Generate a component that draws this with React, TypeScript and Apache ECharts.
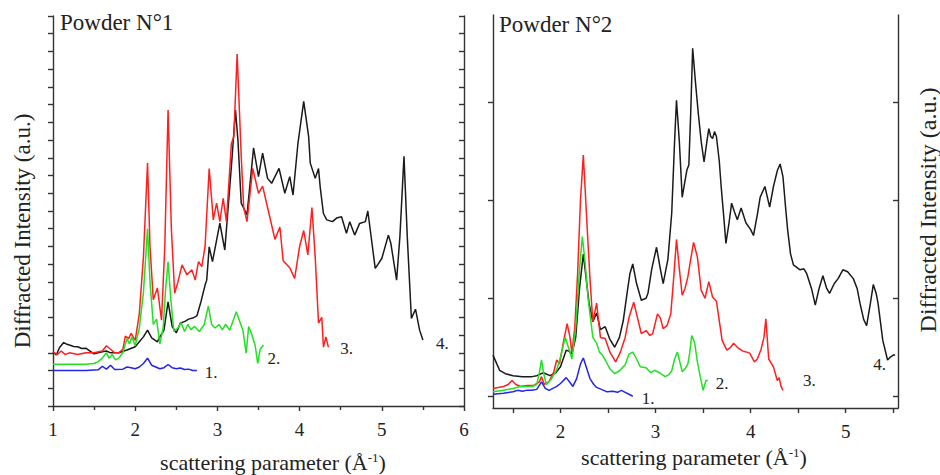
import React, { useEffect, useRef } from "react";
import * as echarts from "echarts";

const SERIF = '"Liberation Serif", "Times New Roman", serif';
const INK = "#222";
const AXIS = "#333";

// ---------- Powder N°1 (left panel) ----------
const p1XRange = [1, 6];
const p1YRange = [0, 11];

const p1Blue = [
  [1.0, 1.0], [1.2, 1.0], [1.4, 1.0], [1.55, 1.02], [1.6, 1.12], [1.65, 1.04], [1.7, 1.15],
  [1.75, 1.03], [1.85, 1.04], [1.9, 1.1], [1.95, 1.08], [2.0, 1.05], [2.05, 1.1], [2.1, 1.2],
  [2.15, 1.35], [2.2, 1.15], [2.25, 1.1], [2.3, 1.05], [2.35, 1.08], [2.4, 1.17], [2.45, 1.08],
  [2.5, 1.05], [2.55, 1.07], [2.6, 1.03], [2.65, 1.04], [2.7, 1.0], [2.75, 1.0],
];

const p1Green = [
  [1.0, 1.18], [1.2, 1.18], [1.4, 1.18], [1.5, 1.2], [1.55, 1.25], [1.6, 1.35], [1.65, 1.5],
  [1.68, 1.35], [1.72, 1.45], [1.76, 1.3], [1.8, 1.35], [1.85, 1.5], [1.9, 1.9], [1.93, 1.75],
  [1.96, 1.95], [2.0, 1.7], [2.05, 2.2], [2.1, 3.2], [2.15, 5.0], [2.18, 3.5], [2.22, 2.3],
  [2.26, 2.45], [2.3, 1.75], [2.34, 2.2], [2.37, 3.3], [2.4, 4.07], [2.43, 3.1], [2.47, 2.1],
  [2.52, 2.2], [2.56, 2.35], [2.6, 2.1], [2.64, 2.3], [2.68, 2.15], [2.72, 2.25], [2.78, 2.1],
  [2.84, 2.3], [2.89, 2.82], [2.93, 2.3], [2.97, 2.2], [3.02, 2.3], [3.06, 2.15], [3.1, 2.3],
  [3.15, 2.14], [3.19, 2.4], [3.23, 2.66], [3.27, 2.4], [3.31, 2.14], [3.35, 1.49], [3.38, 2.24],
  [3.42, 2.0], [3.46, 1.7], [3.49, 1.2], [3.52, 1.6], [3.56, 1.72],
];

const p1Red = [
  [1.0, 1.53], [1.05, 1.45], [1.1, 1.55], [1.15, 1.45], [1.2, 1.5], [1.3, 1.45], [1.4, 1.5],
  [1.5, 1.5], [1.6, 1.55], [1.65, 1.7], [1.7, 1.6], [1.75, 1.5], [1.8, 1.5], [1.85, 1.6],
  [1.88, 1.97], [1.92, 1.9], [1.95, 2.05], [2.0, 1.85], [2.05, 2.6], [2.1, 4.2], [2.15, 6.85],
  [2.18, 4.5], [2.22, 3.0], [2.27, 3.33], [2.32, 2.42], [2.36, 4.5], [2.4, 8.35], [2.44, 5.0],
  [2.48, 3.18], [2.52, 3.5], [2.57, 3.98], [2.63, 3.7], [2.69, 3.84], [2.73, 3.55], [2.77, 4.07],
  [2.81, 3.93], [2.85, 4.5], [2.9, 6.7], [2.95, 5.25], [2.99, 5.72], [3.03, 5.2], [3.07, 5.86],
  [3.11, 5.2], [3.17, 7.4], [3.2, 7.6], [3.24, 9.93], [3.29, 7.04], [3.32, 5.6], [3.36, 5.2],
  [3.43, 6.7], [3.5, 6.0], [3.55, 6.2], [3.62, 5.5], [3.7, 4.7], [3.76, 5.05], [3.8, 4.1],
  [3.88, 3.9], [3.94, 3.6], [4.0, 4.5], [4.05, 4.95], [4.1, 4.26], [4.15, 5.6], [4.19, 4.2],
  [4.23, 2.34], [4.27, 2.5], [4.29, 1.66], [4.32, 1.95], [4.35, 1.66],
];

const p1Black = [
  [1.0, 1.53], [1.04, 1.44], [1.08, 1.65], [1.13, 1.79], [1.16, 1.75], [1.2, 1.72], [1.25, 1.68],
  [1.3, 1.67], [1.35, 1.62], [1.4, 1.63], [1.45, 1.55], [1.5, 1.47], [1.55, 1.5], [1.6, 1.53],
  [1.65, 1.55], [1.7, 1.5], [1.8, 1.5], [1.9, 1.58], [2.0, 1.67], [2.05, 1.81], [2.1, 1.95],
  [2.15, 2.14], [2.2, 1.92], [2.27, 1.81], [2.3, 1.95], [2.35, 2.14], [2.4, 2.94], [2.45, 2.24],
  [2.5, 2.06], [2.55, 2.34], [2.6, 2.38], [2.65, 2.45], [2.7, 2.48], [2.75, 2.54], [2.8, 2.94],
  [2.85, 3.41], [2.87, 3.55], [2.9, 4.49], [2.94, 4.07], [3.03, 5.16], [3.09, 4.4], [3.17, 6.75],
  [3.22, 8.35], [3.25, 7.5], [3.29, 5.72], [3.36, 5.39], [3.44, 7.28], [3.5, 6.47], [3.55, 7.13],
  [3.61, 6.42], [3.66, 6.28], [3.7, 6.47], [3.75, 6.7], [3.82, 6.0], [3.88, 6.47], [3.92, 5.95],
  [3.98, 7.41], [4.05, 8.59], [4.11, 7.6], [4.13, 6.85], [4.19, 6.42], [4.23, 6.7], [4.25, 6.19],
  [4.29, 5.43], [4.33, 5.25], [4.4, 5.2], [4.45, 5.3], [4.51, 5.34], [4.57, 4.87], [4.61, 5.2],
  [4.67, 4.82], [4.73, 5.15], [4.8, 5.2], [4.83, 5.5], [4.92, 3.88], [5.0, 4.16], [5.08, 4.82],
  [5.11, 4.59], [5.18, 3.55], [5.22, 4.77], [5.27, 7.04], [5.31, 4.77], [5.36, 2.47], [5.41, 2.73],
  [5.46, 2.14], [5.5, 1.86],
];

// ---------- Powder N°2 (right panel) ----------
const p2XRange = [1.29, 5.55];
const p2YRange = [-0.12, 3.89];
const p2XTickValues = [1.5, 2, 2.5, 3, 3.5, 4, 4.5, 5, 5.5];
const p2XLabelValues = [2, 3, 4, 5];
const p2YTickValues = [0, 1, 2, 3];

const p2Blue = [
  [1.29, 0.02], [1.4, 0.03], [1.5, 0.045], [1.55, 0.06], [1.6, 0.05], [1.64, 0.06], [1.7, 0.06],
  [1.75, 0.07], [1.8, 0.146], [1.84, 0.08], [1.88, 0.06], [1.92, 0.08], [1.96, 0.1], [2.0, 0.13],
  [2.06, 0.19], [2.1, 0.14], [2.13, 0.1], [2.17, 0.18], [2.21, 0.33], [2.24, 0.39], [2.27, 0.3],
  [2.31, 0.18], [2.35, 0.12], [2.38, 0.09], [2.43, 0.07], [2.49, 0.045], [2.55, 0.05], [2.6, 0.04],
  [2.64, 0.06], [2.68, 0.04], [2.72, 0.02], [2.76, 0.0],
];

const p2Green = [
  [1.29, 0.045], [1.4, 0.06], [1.5, 0.08], [1.58, 0.1], [1.64, 0.1], [1.7, 0.1], [1.75, 0.12],
  [1.78, 0.25], [1.8, 0.37], [1.82, 0.25], [1.85, 0.12], [1.9, 0.17], [1.96, 0.27], [2.0, 0.4],
  [2.05, 0.6], [2.09, 0.48], [2.12, 0.38], [2.16, 0.7], [2.2, 1.3], [2.23, 1.63], [2.26, 1.35],
  [2.29, 1.0], [2.31, 0.84], [2.34, 0.6], [2.38, 0.54], [2.41, 0.45], [2.44, 0.42], [2.47, 0.37],
  [2.52, 0.28], [2.57, 0.23], [2.62, 0.26], [2.68, 0.32], [2.72, 0.43], [2.76, 0.45], [2.8, 0.38],
  [2.84, 0.3], [2.9, 0.29], [2.95, 0.24], [2.99, 0.265], [3.04, 0.24], [3.1, 0.2], [3.14, 0.22],
  [3.17, 0.26], [3.2, 0.38], [3.23, 0.45], [3.26, 0.33], [3.28, 0.25], [3.31, 0.28], [3.34, 0.33],
  [3.36, 0.45], [3.38, 0.62], [3.41, 0.55], [3.44, 0.35], [3.47, 0.2], [3.5, 0.06], [3.53, 0.16],
  [3.55, 0.16],
];

const p2Red = [
  [1.29, 0.08], [1.4, 0.1], [1.45, 0.12], [1.49, 0.16], [1.53, 0.12], [1.58, 0.1], [1.65, 0.11],
  [1.72, 0.11], [1.78, 0.15], [1.8, 0.2], [1.83, 0.12], [1.88, 0.15], [1.93, 0.25], [1.96, 0.37],
  [1.99, 0.33], [2.03, 0.55], [2.07, 0.74], [2.1, 0.6], [2.12, 0.44], [2.15, 0.7], [2.18, 1.25],
  [2.21, 2.0], [2.24, 2.46], [2.26, 2.1], [2.28, 1.73], [2.31, 1.2], [2.34, 0.76], [2.38, 0.95],
  [2.42, 0.6], [2.47, 0.59], [2.52, 0.45], [2.58, 0.35], [2.63, 0.45], [2.68, 0.6], [2.72, 0.8],
  [2.77, 0.96], [2.81, 0.8], [2.85, 0.64], [2.9, 0.67], [2.94, 0.62], [2.97, 0.64], [3.02, 0.84],
  [3.05, 0.8], [3.08, 0.69], [3.12, 0.72], [3.16, 0.84], [3.19, 1.2], [3.22, 1.6], [3.25, 1.3],
  [3.28, 1.03], [3.31, 1.1], [3.34, 1.22], [3.37, 1.4], [3.4, 1.57], [3.44, 1.42], [3.48, 1.08],
  [3.52, 1.0], [3.56, 1.17], [3.6, 1.01], [3.64, 0.97], [3.7, 0.57], [3.75, 0.47], [3.79, 0.5],
  [3.82, 0.54], [3.87, 0.49], [3.92, 0.46], [3.96, 0.45], [3.99, 0.44], [4.04, 0.35], [4.07, 0.38],
  [4.11, 0.48], [4.14, 0.6], [4.16, 0.79], [4.19, 0.38], [4.24, 0.3], [4.28, 0.16], [4.3, 0.19],
  [4.32, 0.1], [4.34, 0.06],
];

const p2Black = [
  [1.29, 0.42], [1.33, 0.33], [1.36, 0.265], [1.42, 0.23], [1.5, 0.21], [1.6, 0.2], [1.7, 0.2],
  [1.75, 0.21], [1.82, 0.24], [1.89, 0.21], [1.95, 0.24], [2.0, 0.3], [2.06, 0.47], [2.09, 0.46],
  [2.12, 0.43], [2.16, 0.6], [2.2, 1.1], [2.24, 1.45], [2.27, 1.2], [2.3, 0.95], [2.34, 0.76],
  [2.38, 0.85], [2.42, 0.68], [2.47, 0.71], [2.52, 0.58], [2.57, 0.5], [2.62, 0.6], [2.66, 0.77],
  [2.7, 1.05], [2.73, 1.25], [2.76, 1.35], [2.8, 1.15], [2.85, 0.98], [2.9, 1.0], [2.92, 1.05],
  [2.96, 1.3], [3.01, 1.52], [3.05, 1.3], [3.08, 1.15], [3.13, 1.4], [3.17, 1.87], [3.2, 2.6],
  [3.22, 3.02], [3.25, 2.6], [3.28, 2.03], [3.31, 2.2], [3.33, 2.31], [3.35, 2.36], [3.37, 2.9],
  [3.39, 3.55], [3.42, 3.2], [3.45, 2.88], [3.48, 2.6], [3.51, 2.39], [3.54, 2.6], [3.56, 2.73],
  [3.58, 2.65], [3.6, 2.63], [3.62, 2.7], [3.64, 2.65], [3.67, 2.4], [3.69, 2.14], [3.72, 1.8],
  [3.74, 1.56], [3.77, 1.75], [3.8, 1.97], [3.83, 1.88], [3.86, 1.8], [3.9, 1.92], [3.95, 1.77],
  [4.0, 1.7], [4.03, 1.64], [4.07, 1.85], [4.1, 2.03], [4.15, 2.14], [4.2, 1.93], [4.24, 2.14],
  [4.28, 2.3], [4.31, 2.37], [4.34, 2.24], [4.37, 1.9], [4.39, 1.69], [4.42, 1.45], [4.45, 1.34],
  [4.52, 1.29], [4.56, 1.3], [4.59, 1.25], [4.64, 1.1], [4.68, 0.93], [4.72, 1.1], [4.76, 1.23],
  [4.8, 1.1], [4.83, 1.05], [4.88, 1.15], [4.92, 1.2], [4.97, 1.29], [5.02, 1.27], [5.08, 1.2],
  [5.12, 1.1], [5.15, 0.95], [5.19, 0.78], [5.22, 0.72], [5.26, 0.95], [5.29, 1.14], [5.32, 1.05],
  [5.34, 0.95], [5.39, 0.57], [5.44, 0.37], [5.47, 0.4], [5.5, 0.42], [5.52, 0.42],
];

const curveLabels = ["1.", "2.", "3.", "4."];
const colors = ["#2323ee", "#22e022", "#ff1f1f", "#1a1a1a"];

const lineAxisStyle = { color: AXIS, width: 1.4 };
const TICK_FONT = 19;
const TICK_MARGIN = 14;

function makeSeries(data: number[][], idx: number, grid: number, offset: number[]) {
  return {
    type: "line",
    xAxisIndex: grid,
    yAxisIndex: grid * 2,
    data,
    showSymbol: false,
    symbol: "none",
    silent: true,
    lineStyle: { color: colors[idx], width: 1.5 },
    itemStyle: { color: colors[idx] },
    endLabel: {
      show: true,
      formatter: curveLabels[idx],
      fontFamily: SERIF,
      fontSize: 17,
      color: INK,
      offset,
    },
  };
}

function yAxisFor(grid: number, position: string, range: number[], inside: boolean, ticks?: number[]) {
  const base: any = {
    type: "value",
    gridIndex: grid,
    position,
    min: range[0],
    max: range[1],
    axisLine: { show: true, onZero: false, lineStyle: lineAxisStyle },
    axisLabel: { show: false },
    splitLine: { show: false },
  };
  if (ticks) {
    base.axisTick = { show: true, inside, length: 5, customValues: ticks, lineStyle: lineAxisStyle };
  } else {
    base.interval = 1;
    base.axisTick = { show: true, inside, length: 5, lineStyle: lineAxisStyle };
    base.minorTick = { show: true, splitNumber: 2, length: 5, lineStyle: lineAxisStyle };
  }
  return base;
}

const tickLabel = { fontFamily: SERIF, fontSize: TICK_FONT, color: INK, margin: TICK_MARGIN };

const titleRich = {
  a: { fontFamily: SERIF, fontSize: 22, fill: INK },
  s: { fontFamily: SERIF, fontSize: 13, fill: INK, verticalAlign: "top" },
};

const grids = [
  { left: 53, top: 16, width: 411, height: 390 },
  { left: 493, top: 15, width: 405, height: 393 },
];

const baseGraphic: any[] = [
  {
    id: "t1",
    type: "text",
    x: 60,
    y: 11,
    style: { text: "Powder N°1", fontFamily: SERIF, fontSize: 23, fill: INK, align: "left", verticalAlign: "top" },
  },
  {
    id: "t2",
    type: "text",
    x: 499,
    y: 13,
    style: { text: "Powder N°2", fontFamily: SERIF, fontSize: 23, fill: INK, align: "left", verticalAlign: "top" },
  },
  {
    id: "xt1",
    type: "text",
    x: 273,
    y: 462,
    style: {
      text: "{a|scattering parameter (Å}{s|-1}{a|)}",
      align: "center",
      verticalAlign: "middle",
      rich: titleRich,
    },
  },
  {
    id: "xt2",
    type: "text",
    x: 694,
    y: 457,
    style: {
      text: "{a|scattering parameter (Å}{s|-1}{a|)}",
      align: "center",
      verticalAlign: "middle",
      rich: titleRich,
    },
  },
  {
    id: "yt1",
    type: "text",
    x: 22,
    y: 231,
    rotation: Math.PI / 2,
    style: { text: "Diffracted Intensity (a.u.)", fontFamily: SERIF, fontSize: 23, fill: INK, align: "center", verticalAlign: "middle" },
  },
  {
    id: "yt2",
    type: "text",
    x: 928,
    y: 210,
    rotation: Math.PI / 2,
    style: { text: "Diffracted Intensity (a.u.)", fontFamily: SERIF, fontSize: 24, fill: INK, align: "center", verticalAlign: "middle" },
  },
];

const option: any = {
  animation: false,
  backgroundColor: "#fff",
  grid: grids,
  xAxis: [
    {
      type: "value",
      gridIndex: 0,
      min: p1XRange[0],
      max: p1XRange[1],
      interval: 1,
      axisLine: { show: true, onZero: false, lineStyle: lineAxisStyle },
      axisTick: { show: true, length: 5, lineStyle: lineAxisStyle },
      minorTick: { show: true, splitNumber: 2, length: 4, lineStyle: lineAxisStyle },
      axisLabel: tickLabel,
      splitLine: { show: false },
    },
    {
      type: "value",
      gridIndex: 1,
      position: "bottom",
      min: p2XRange[0],
      max: p2XRange[1],
      axisLine: { show: true, onZero: false, lineStyle: lineAxisStyle },
      axisTick: { show: true, length: 5, customValues: p2XTickValues, lineStyle: lineAxisStyle },
      axisLabel: { show: false },
      splitLine: { show: false },
    },
  ],
  yAxis: [
    yAxisFor(0, "left", p1YRange, false),
    yAxisFor(0, "right", p1YRange, true),
    yAxisFor(1, "left", p2YRange, false, p2YTickValues),
    yAxisFor(1, "right", p2YRange, true, p2YTickValues),
  ],
  series: [
    makeSeries(p1Black, 3, 0, [5, 3]),
    makeSeries(p1Red, 2, 0, [4, 1]),
    makeSeries(p1Green, 1, 0, [-4, 13]),
    makeSeries(p1Blue, 0, 0, [0, 2]),
    makeSeries(p2Black, 3, 1, [-30, 9]),
    makeSeries(p2Red, 2, 1, [12, -10]),
    makeSeries(p2Green, 1, 1, [0, 3]),
    makeSeries(p2Blue, 0, 1, [1, 2]),
  ],
  graphic: baseGraphic,
};

export default function App() {
  const ref = useRef<HTMLDivElement>(null);
  useEffect(() => {
    const chart = echarts.init(ref.current as HTMLDivElement, null, { renderer: "svg" });
    chart.setOption(option);
    // right-panel tick labels, placed through the axis's own scale, drawn on top
    const axisY = grids[1].top + grids[1].height + TICK_MARGIN;
    const tickTexts = p2XLabelValues.map((v) => ({
      id: "p2lab" + v,
      type: "text",
      z: 100,
      x: chart.convertToPixel({ xAxisIndex: 1 }, v) as number,
      y: axisY,
      style: {
        text: String(v),
        fontFamily: SERIF,
        fontSize: TICK_FONT,
        fill: INK,
        align: "center",
        verticalAlign: "top",
      },
    }));
    chart.setOption({ graphic: [...baseGraphic, ...tickTexts] });
    return () => chart.dispose();
  }, []);
  return (
    <div
      ref={ref}
      style={{ position: "fixed", left: 0, top: 0, width: 940, height: 475, background: "#fff" }}
    />
  );
}
